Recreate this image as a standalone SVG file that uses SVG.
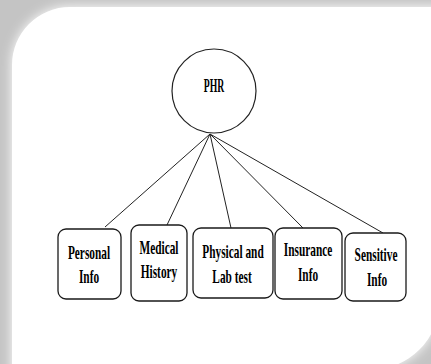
<svg xmlns="http://www.w3.org/2000/svg" width="431" height="364" viewBox="0 0 431 364">
<defs>
<filter id="glow" x="-10%" y="-10%" width="120%" height="120%">
<feGaussianBlur stdDeviation="6"/>
</filter>
<style>
.box{fill:#fff;stroke:#1a1a1a;stroke-width:1.3}
.t{font-family:"Liberation Serif","Times New Roman",serif;font-weight:bold;font-size:18px;fill:#000;text-anchor:middle}
.ln{stroke:#222;stroke-width:1;fill:none}
</style>
</defs>
<rect x="0" y="0" width="431" height="364" fill="#c4c4c4"/>
<path d="M12,380 L12,65 A58,58 0 0 1 70,7 L450,7 L450,300 L440,300 A70,70 0 0 1 370,370 Z" fill="#fff" filter="url(#glow)"/>
<path d="M12,380 L12,65 A58,58 0 0 1 70,7 L440,7 L440,300 A70,70 0 0 1 370,370 Z" fill="#fff"/>
<g id="connectors">
<line class="ln" x1="210" y1="134" x2="105" y2="227"/>
<line class="ln" x1="210" y1="134" x2="167" y2="225"/>
<line class="ln" x1="210" y1="134" x2="231" y2="228"/>
<line class="ln" x1="210" y1="134" x2="303" y2="228"/>
<line class="ln" x1="210" y1="134" x2="383" y2="233"/>
</g>
<g id="phr">
<circle cx="214" cy="91" r="42" fill="#fff" stroke="#222" stroke-width="1.2"/>
<text class="t" transform="translate(214,92) scale(0.54,1)" font-size="21">PHR</text>
</g>
<g id="personal">
<rect class="box" x="58" y="229" width="63" height="70" rx="8"/>
<text class="t" transform="translate(89,259) scale(0.63,1)">Personal</text>
<text class="t" transform="translate(89,283) scale(0.63,1)">Info</text>
</g>
<g id="medical">
<rect class="box" x="131" y="225" width="56" height="76" rx="8"/>
<text class="t" transform="translate(159,254) scale(0.63,1)">Medical</text>
<text class="t" transform="translate(159,278) scale(0.63,1)">History</text>
</g>
<g id="physical">
<rect class="box" x="193" y="228" width="80" height="70" rx="8"/>
<text class="t" transform="translate(233,258) scale(0.63,1)">Physical and</text>
<text class="t" transform="translate(232,283) scale(0.63,1)">Lab test</text>
</g>
<g id="insurance">
<rect class="box" x="275" y="228" width="67" height="71" rx="8"/>
<text class="t" transform="translate(308,256) scale(0.63,1)">Insurance</text>
<text class="t" transform="translate(308,281) scale(0.63,1)">Info</text>
</g>
<g id="sensitive">
<rect class="box" x="345" y="233" width="61" height="68" rx="8"/>
<text class="t" transform="translate(376,261) scale(0.63,1)">Sensitive</text>
<text class="t" transform="translate(377,286) scale(0.63,1)">Info</text>
</g>
</svg>
